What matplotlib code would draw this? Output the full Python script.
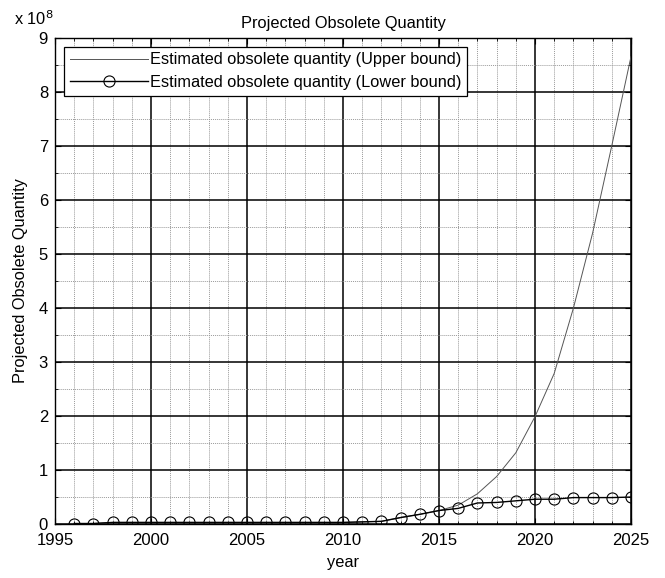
import matplotlib
matplotlib.use("Agg")
import matplotlib.pyplot as plt
from matplotlib.ticker import MultipleLocator, FuncFormatter

plt.rcParams['font.family'] = ['Liberation Sans', 'DejaVu Sans']

years = list(range(1996, 2026))

# Estimated obsolete quantity, upper bound (units)
upper = [0.00e8, 0.00e8, 0.02e8, 0.02e8, 0.02e8, 0.02e8, 0.02e8, 0.02e8,
         0.02e8, 0.02e8, 0.02e8, 0.02e8, 0.02e8, 0.02e8, 0.02e8, 0.03e8,
         0.04e8, 0.11e8, 0.17e8, 0.24e8, 0.34e8, 0.55e8, 0.87e8, 1.31e8,
         1.98e8, 2.78e8, 3.99e8, 5.38e8, 7.00e8, 8.65e8]

# Estimated obsolete quantity, lower bound (units)
lower = [0.00e8, 0.00e8, 0.02e8, 0.02e8, 0.02e8, 0.02e8, 0.02e8, 0.02e8,
         0.02e8, 0.02e8, 0.02e8, 0.02e8, 0.02e8, 0.02e8, 0.02e8, 0.03e8,
         0.04e8, 0.11e8, 0.17e8, 0.24e8, 0.28e8, 0.38e8, 0.39e8, 0.42e8,
         0.45e8, 0.45e8, 0.48e8, 0.48e8, 0.48e8, 0.49e8]

labels = ["Estimated obsolete quantity (Upper bound)",
          "Estimated obsolete quantity (Lower bound)"]

W, H = 665, 578
fig = plt.figure(figsize=(W / 100, H / 100), dpi=100)
ax = fig.add_axes([55 / W, 1 - 523.5 / H, (631 - 55) / W, (523.5 - 37.7) / H])

ax.plot(years, upper, color='#555555', lw=0.7, label=labels[0], zorder=3)
ax.plot(years, lower, color='black', lw=1.0, marker='o', markersize=8,
        markerfacecolor='none', markeredgecolor='black', markeredgewidth=0.8,
        label=labels[1], zorder=4)

ax.set_xlim(1995, 2025)
ax.set_ylim(0, 9e8)
ax.xaxis.set_major_locator(MultipleLocator(5))
ax.xaxis.set_minor_locator(MultipleLocator(1))
ax.yaxis.set_major_locator(MultipleLocator(1e8))
ax.yaxis.set_minor_locator(MultipleLocator(0.5e8))
ax.yaxis.set_major_formatter(FuncFormatter(lambda v, p: f"{v / 1e8:g}"))

ax.grid(which='major', color='black', lw=1.1, ls='-', zorder=1)
ax.grid(which='minor', color='#9a9a9a', lw=0.7, ls=(0, (1, 1)), zorder=0)
ax.set_axisbelow(True)

ax.tick_params(which='both', direction='in', top=True, right=True,
               labelsize=12)
ax.tick_params(axis='x', pad=7)
ax.tick_params(axis='y', pad=5)
ax.tick_params(which='major', length=4, width=0.8)
ax.tick_params(which='minor', length=2, width=0.6)
for s in ax.spines.values():
    s.set_linewidth(1.0)
    s.set_color('black')

ax.set_title("Projected Obsolete Quantity", fontsize=11.8, pad=7)
ax.set_xlabel("year", fontsize=11.8, labelpad=5)
ax.set_ylabel("Projected Obsolete Quantity", fontsize=11.8, labelpad=8)
fig.text(14 / W, 1 - 19 / H, r"x 10$^{8}$", fontsize=11.8, va='center',
         ha='left')

leg = ax.legend(loc='upper left',
                bbox_to_anchor=((64 - 55) / 576, 1 - (46.7 - 37.7) / 485.8),
                fontsize=11.8, frameon=True, fancybox=False, framealpha=1,
                edgecolor='black', borderpad=0.35, handlelength=4.8,
                handletextpad=0.1, labelspacing=0.45, borderaxespad=0)
leg.get_frame().set_linewidth(0.9)

fig.savefig("out.png", dpi=100)
